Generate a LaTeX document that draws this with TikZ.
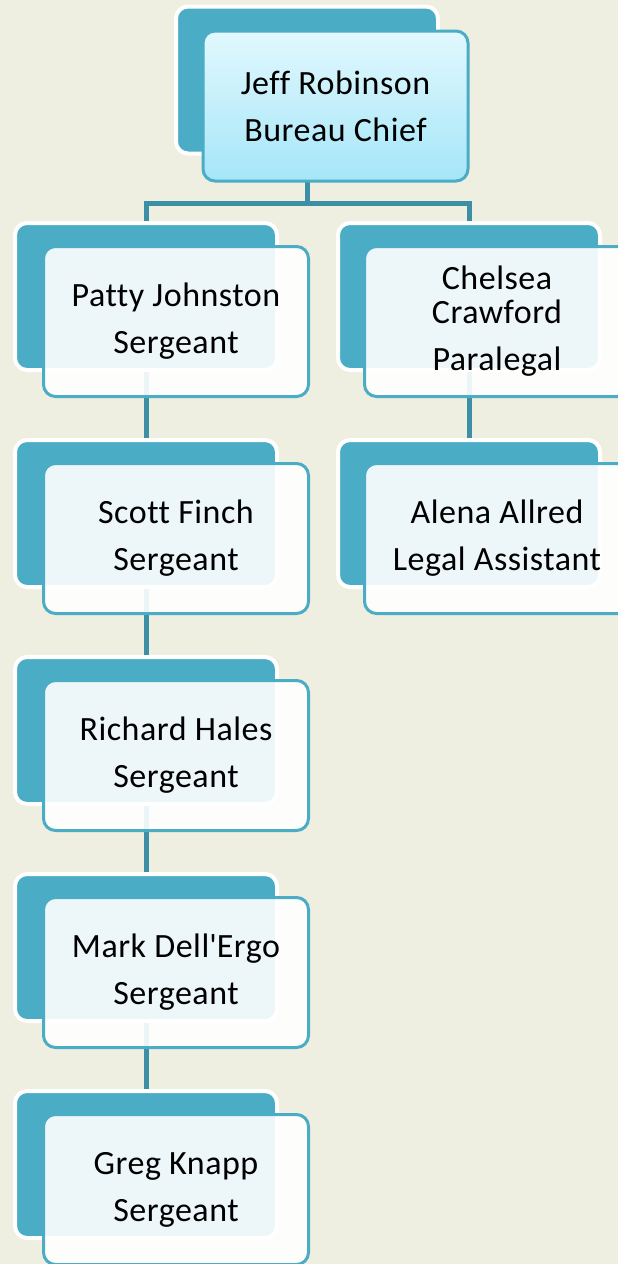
\documentclass[tikz,border=0pt]{standalone}
\usepackage{fontspec}
\setmainfont{Carlito}[Ligatures=NoCommon, LetterSpace=1.5]
\usetikzlibrary{backgrounds}
\definecolor{pagebg}{HTML}{EEEEE1}
\definecolor{chartteal}{HTML}{4BACC6}
\definecolor{linkteal}{HTML}{3D8FA6}
\definecolor{chiefhi}{HTML}{E2F8FE}
\definecolor{chieflo}{HTML}{A5E6F8}

\begin{document}
\begin{tikzpicture}[x=1pt, y=-1pt,
        backbox/.style={rectangle, rounded corners=12pt, fill=chartteal, draw=white, line width=4pt,
                        minimum width=262pt, minimum height=147pt, inner sep=0pt},
        frontbox/.style={rectangle, rounded corners=12pt, draw=chartteal, line width=3pt,
                         fill=white, fill opacity=0.9, text opacity=1,
                         minimum width=265pt, minimum height=150pt, align=center,
                         font=\fontsize{34}{47}\selectfont},
        chiefbox/.style={frontbox, fill opacity=1, top color=chiefhi, bottom color=chieflo},
        link/.style={draw=linkteal, line width=5pt}]
        \useasboundingbox (0,0) rectangle (618,1264);

        % chief
        \node [backbox] (jeff-back) at (307,80) {};
        \node [chiefbox] (jeff) at (335.5,106) {Jeff Robinson\\Bureau Chief};

        % sergeants
        \node [backbox] (patty-back) at (146,296.5) {};
        \node [frontbox] (patty) at (176,321.5) {Patty Johnston\\Sergeant};
        \node [backbox] (scott-back) at (146,513.5) {};
        \node [frontbox] (scott) at (176,538.5) {Scott Finch\\Sergeant};
        \node [backbox] (richard-back) at (146,730.5) {};
        \node [frontbox] (richard) at (176,755.5) {Richard Hales\\Sergeant};
        \node [backbox] (mark-back) at (146,947.5) {};
        \node [frontbox] (mark) at (176,972.5) {Mark Dell\textquotesingle Ergo\\Sergeant};
        \node [backbox] (greg-back) at (146,1164.5) {};
        \node [frontbox] (greg) at (176,1189.5) {Greg Knapp\\Sergeant};

        % legal staff
        \node [backbox] (chelsea-back) at (469,296.5) {};
        \node [frontbox] (chelsea) at (497,321.5) {Chelsea\\[-13pt]Crawford\\Paralegal};
        \node [backbox] (alena-back) at (469,513.5) {};
        \node [frontbox] (alena) at (497,538.5) {Alena Allred\\Legal Assistant};

        \begin{scope}[on background layer]
            \fill [pagebg] (0,0) rectangle (618,1264);
            \coordinate (split) at (307,203);
            \draw [link] (jeff-back.center) -- (split);
            \draw [link] (patty-back.center) |- (split) -| (chelsea-back.center);
            \draw [link] (patty-back.center) -- (scott-back.center) -- (richard-back.center)
                         -- (mark-back.center) -- (greg-back.center);
            \draw [link] (chelsea-back.center) -- (alena-back.center);
        \end{scope}
    \end{tikzpicture}
\end{document}
